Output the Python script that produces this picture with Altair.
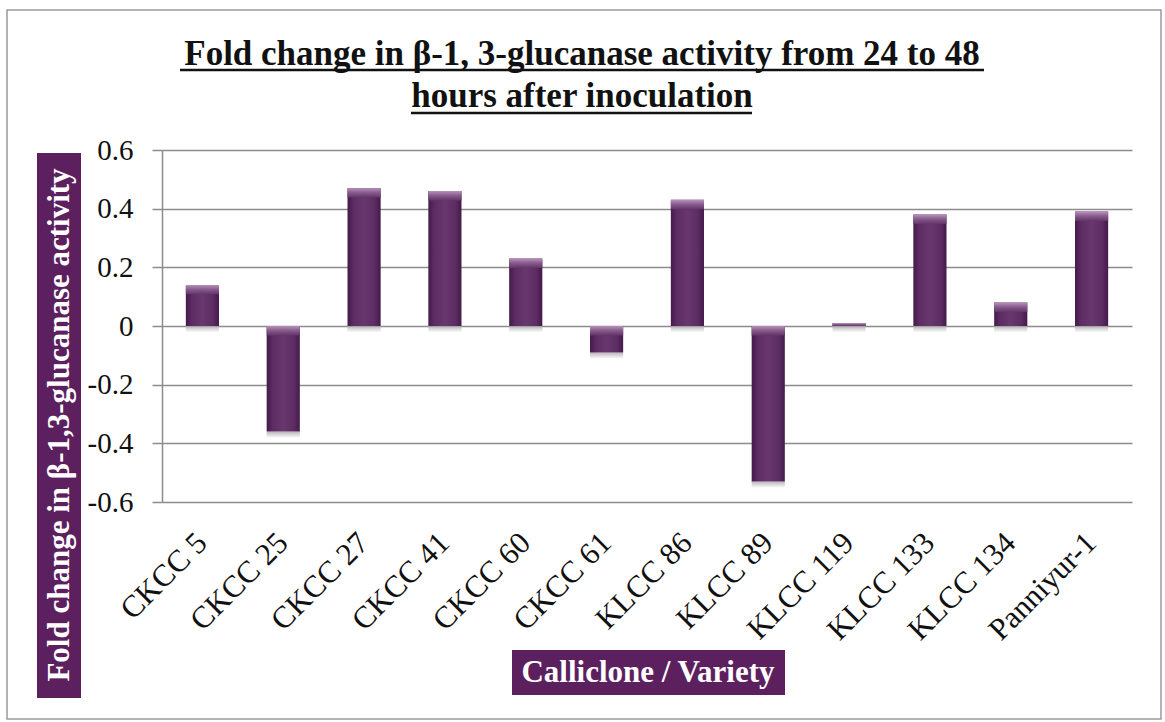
import altair as alt
import pandas as pd

# Fold change per calliclone / variety
clones = ["CKCC 5", "CKCC 25", "CKCC 27", "CKCC 41", "CKCC 60", "CKCC 61",
          "KLCC 86", "KLCC 89", "KLCC 119", "KLCC 133", "KLCC 134", "Panniyur-1"]
fold_change = [0.14, -0.36, 0.47, 0.46, 0.23, -0.09,
               0.43, -0.53, 0.01, 0.38, 0.08, 0.39]
y_ticks = [-0.6, -0.4, -0.2, 0, 0.2, 0.4, 0.6]

title_lines = ["Fold change in \u03b2-1, 3-glucanase activity from 24 to 48",
               "hours after inoculation"]
y_title = "Fold change in \u03b2-1,3-glucanase activity"
x_title = "Calliclone / Variety"

SERIF = "Liberation Serif"
PURPLE = "#5c205f"
GRID = "#8c8c8c"

W, H = 970, 352
PAD_L, PAD_T = 162, 150

df = pd.DataFrame({"clone": clones, "value": fold_change})
one = alt.Data(values=[{}])

x_enc = alt.X("clone:N", sort=clones,
              scale=alt.Scale(paddingInner=0.59, paddingOuter=0.295),
              axis=alt.Axis(title=None, labelAngle=-45, labelAlign="right",
                            labelBaseline="middle", labelFont=SERIF,
                            labelFontSize=31, labelColor="#111111",
                            labelPadding=36, ticks=False, domain=False,
                            grid=False))
y_scale = alt.Scale(domain=[-0.6, 0.6], nice=False)

bar_fill = alt.Gradient(
    gradient="linear", x1=0, x2=1, y1=0, y2=0,
    stops=[
        alt.GradientStop(color="#441a4a", offset=0),
        alt.GradientStop(color="#5c2c63", offset=0.18),
        alt.GradientStop(color="#67386d", offset=0.5),
        alt.GradientStop(color="#5c2c63", offset=0.82),
        alt.GradientStop(color="#441a4a", offset=1),
    ],
)
cap_fill = alt.Gradient(
    gradient="linear", x1=0, x2=0, y1=0, y2=1,
    stops=[
        alt.GradientStop(color="#b892bb", offset=0),
        alt.GradientStop(color="#8a5e8f", offset=0.45),
        alt.GradientStop(color="#633468", offset=1),
    ],
)
shadow_fill = alt.Gradient(
    gradient="linear", x1=0, x2=0, y1=0, y2=1,
    stops=[
        alt.GradientStop(color="#a8a2a8", offset=0),
        alt.GradientStop(color="#ffffff", offset=1),
    ],
)

base = alt.Chart(df).transform_calculate(
    top="max(datum.value, 0)",
    bot="min(datum.value, 0)",
).transform_calculate(
    cap_lo="max(datum.top - 0.032, datum.bot)",
    shade_lo="datum.bot - 0.022",
)

shadow = base.mark_bar(fill=shadow_fill, opacity=0.8).encode(
    x=x_enc, y=alt.Y("bot:Q", scale=y_scale), y2="shade_lo:Q")

bars = base.mark_bar(fill=bar_fill).encode(
    x=x_enc,
    y=alt.Y("value:Q", scale=y_scale,
            axis=alt.Axis(title=None, values=y_ticks,
                          labelExpr="'' + datum.value",
                          grid=True, gridColor=GRID, gridWidth=1.5,
                          tickColor=GRID, tickWidth=1.5, tickSize=10,
                          domainColor=GRID, domainWidth=1.5,
                          labelFont=SERIF, labelFontSize=29,
                          labelColor="#111111", labelPadding=19)),
)

# lighter bevel along the upper edge of each bar
caps = base.mark_bar(fill=cap_fill).encode(
    x=x_enc, y=alt.Y("top:Q", scale=y_scale), y2="cap_lo:Q")

# outer frame
frame = alt.Chart(one).mark_rect(fill=None, stroke="#9a9a9a", strokeWidth=1.5).encode(
    x=alt.value(7 - PAD_L), x2=alt.value(1161 - PAD_L),
    y=alt.value(10 - PAD_T), y2=alt.value(719 - PAD_T),
)

# title (two underlined lines)
title1 = alt.Chart(one).mark_text(font=SERIF, fontSize=35, fontWeight="bold",
                                  color="#111111", align="center",
                                  baseline="alphabetic").encode(
    x=alt.value(582 - PAD_L), y=alt.value(65 - PAD_T), text=alt.value(title_lines[0]))
title2 = alt.Chart(one).mark_text(font=SERIF, fontSize=35, fontWeight="bold",
                                  color="#111111", align="center",
                                  baseline="alphabetic").encode(
    x=alt.value(582 - PAD_L), y=alt.value(107 - PAD_T), text=alt.value(title_lines[1]))
under1 = alt.Chart(one).mark_rule(color="#111111", strokeWidth=2.5).encode(
    x=alt.value(180 - PAD_L), x2=alt.value(984 - PAD_L), y=alt.value(70 - PAD_T))
under2 = alt.Chart(one).mark_rule(color="#111111", strokeWidth=2.5).encode(
    x=alt.value(411 - PAD_L), x2=alt.value(752 - PAD_L), y=alt.value(113 - PAD_T))

# axis titles on filled boxes
ybox = alt.Chart(one).mark_rect(fill=PURPLE).encode(
    x=alt.value(37 - PAD_L), x2=alt.value(81 - PAD_L),
    y=alt.value(153 - PAD_T), y2=alt.value(698 - PAD_T))
ytext = alt.Chart(one).mark_text(font=SERIF, fontSize=31, fontWeight="bold",
                                 color="white", angle=270, align="center",
                                 baseline="middle").encode(
    x=alt.value(60 - PAD_L), y=alt.value(425 - PAD_T), text=alt.value(y_title))
xbox = alt.Chart(one).mark_rect(fill=PURPLE).encode(
    x=alt.value(512 - PAD_L), x2=alt.value(785 - PAD_L),
    y=alt.value(650 - PAD_T), y2=alt.value(695 - PAD_T))
xtext = alt.Chart(one).mark_text(font=SERIF, fontSize=31, fontWeight="bold",
                                 color="white", align="center",
                                 baseline="middle").encode(
    x=alt.value(648 - PAD_L), y=alt.value(673 - PAD_T), text=alt.value(x_title))

chart = alt.layer(
    frame, shadow, bars, caps, title1, title2, under1, under2,
    ybox, ytext, xbox, xtext
).properties(
    width=W, height=H,
    autosize=alt.AutoSizeParams(type="none"),
    padding={"left": PAD_L, "top": PAD_T, "right": 1165 - PAD_L - W,
             "bottom": 722 - PAD_T - H},
    background="white",
).configure_view(stroke=None)

chart.save("out.html", embed_options={"renderer": "svg", "actions": False})
